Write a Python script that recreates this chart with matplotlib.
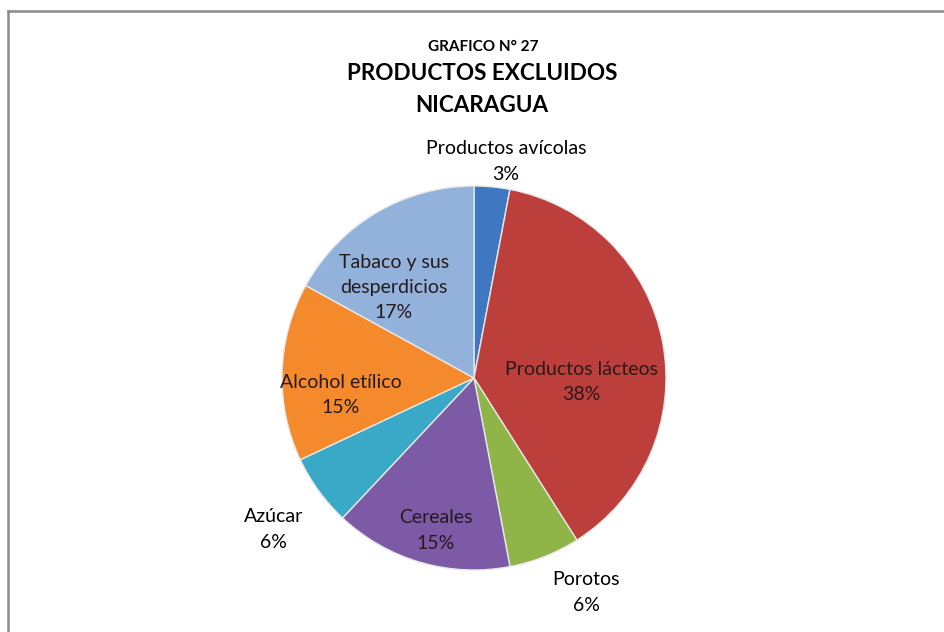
import numpy as np
import matplotlib
matplotlib.use('Agg')
import matplotlib.pyplot as plt
from matplotlib.lines import Line2D

plt.rcParams['font.family'] = ['Lato', 'DejaVu Sans']

# data (clockwise from 12 o'clock)
categories = ['Productos avícolas', 'Productos lácteos', 'Porotos', 'Cereales',
              'Azúcar', 'Alcohol etílico', 'Tabaco y sus\ndesperdicios']
shares = [3, 38, 6, 15, 6, 15, 17]
colors = ['#3f77c0', '#bd3f3b', '#8fb448', '#7c5aa6', '#3aa9c8', '#f58a2c', '#92b2db']

# label layout: (distance in radii, angle offset in degrees)
label_pos = [(1.14, -3), (0.56, -13), (1.26, 6), (0.82, 2), (1.31, 1), (0.70, 9), (0.63, 11)]

W, H = 944, 632
fig = plt.figure(figsize=(W / 100, H / 100), dpi=100)
ax = fig.add_axes([0, 0, 1, 1])

cx, cy, R = 474, H - 378, 192
wedges, _ = ax.pie(shares, colors=colors, startangle=90, counterclock=False,
                   center=(cx, cy), radius=R,
                   wedgeprops=dict(edgecolor='#e8e8e8', linewidth=1.0))

for w, name, val, (d, off) in zip(wedges, categories, shares, label_pos):
    ang = np.deg2rad((w.theta1 + w.theta2) / 2 + off)
    x = cx + d * R * np.cos(ang)
    y = cy + d * R * np.sin(ang)
    inside = d < 1
    ax.text(x, y, '{}\n{}%'.format(name, val), ha='center', va='center',
            fontsize=14, linespacing=1.6, color='#261a1a' if inside else 'black')

ax.set_xlim(0, W)
ax.set_ylim(0, H)
ax.set_aspect('equal')
ax.axis('off')

# titles
ax.text(483, H - 47, 'GRAFICO N° 27', ha='center', va='center', fontsize=11, fontweight='bold')
ax.text(482, H - 73, 'PRODUCTOS EXCLUIDOS', ha='center', va='center', fontsize=16.2, fontweight='bold')
ax.text(482, H - 105, 'NICARAGUA', ha='center', va='center', fontsize=16.2, fontweight='bold')

# outer frame (only left and top visible in the crop)
ax.add_line(Line2D([8, 8], [0, H - 11], color='#8a8a8a', lw=1.8))
ax.add_line(Line2D([8, W], [H - 11, H - 11], color='#8a8a8a', lw=1.8))

fig.savefig('out.png', dpi=100)
